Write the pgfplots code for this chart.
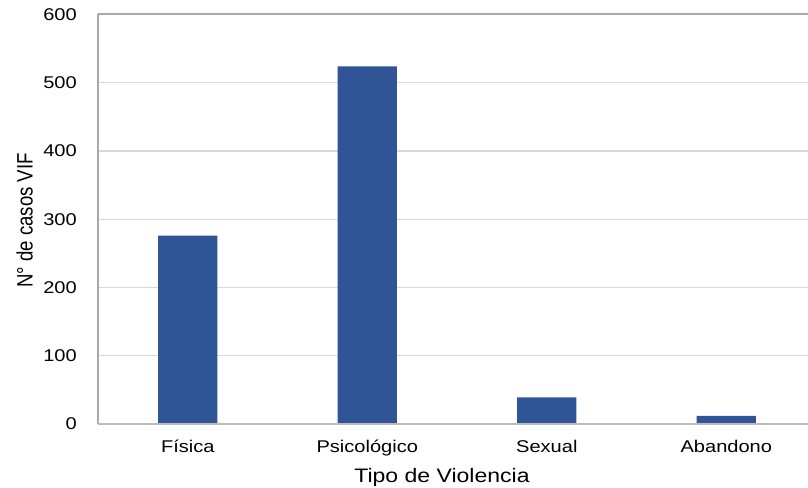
\documentclass[border=0pt]{standalone}
\usepackage{fontspec}
\setmainfont[FakeStretch=1.18]{Liberation Sans}
\newfontfamily\plainsans{Liberation Sans}
\usepackage{graphicx}
\usepackage{pgfplots}
\pgfplotsset{compat=1.18}
\definecolor{barblue}{RGB}{47,85,151}
\definecolor{gridc}{RGB}{217,217,217}
\definecolor{axc}{RGB}{170,170,170}
\begin{document}
\begin{tikzpicture}
\begin{axis}[
  scale only axis,
  width=710bp, height=409.5bp,
  xmin=-0.5, xmax=3.455,
  ymin=0, ymax=600,
  ytick={0,100,200,300,400,500,600},
  xtick={0,1,2,3},
  xticklabels={Física,Psicológico,Sexual,Abandono},
  major tick length=0pt,
  axis line style={draw=none},
  ymajorgrids,
  grid style={gridc, line width=1.2bp},
  /pgf/number format/assume math mode=true,
  ticklabel style={font=\fontsize{17bp}{20bp}\selectfont, inner sep=0pt},
  yticklabel style={anchor=east, xshift=-21bp},
  xticklabel style={anchor=base, yshift=-29bp},
  xlabel={Tipo de Violencia},
  ylabel={\scalebox{1}[1.2]{N° de casos VIF}},
  xlabel style={font=\fontsize{19.5bp}{23bp}\selectfont, inner sep=0pt, at={(axis description cs:0.4845,-0.144)}, anchor=base},
  ylabel style={font=\plainsans\fontsize{18.6bp}{22bp}\selectfont, inner sep=0pt, at={(axis description cs:-0.092,0.497)}, anchor=base},
  ybar, bar width=0.33,
  clip=false,
]
\addplot[fill=barblue, draw=none] coordinates {(0,276) (1,524) (2,39) (3,12)};
\draw[axc, line width=2bp] (rel axis cs:0,1) -- (rel axis cs:1,1);
\draw[axc, line width=1.8bp] (rel axis cs:0,0) -- (rel axis cs:0,1);
\draw[axc!80, line width=1.6bp] (rel axis cs:0,0) -- (rel axis cs:1,0);
\coordinate (bl) at (rel axis cs:0,0);
\coordinate (tr) at (rel axis cs:1,1);
\end{axis}
\pgfresetboundingbox
\path (bl) ++(-98bp,-64bp) coordinate (A);
\path (tr) ++(0bp,14.5bp) coordinate (B);
\path[use as bounding box] (A) rectangle (B);
\end{tikzpicture}
\end{document}
